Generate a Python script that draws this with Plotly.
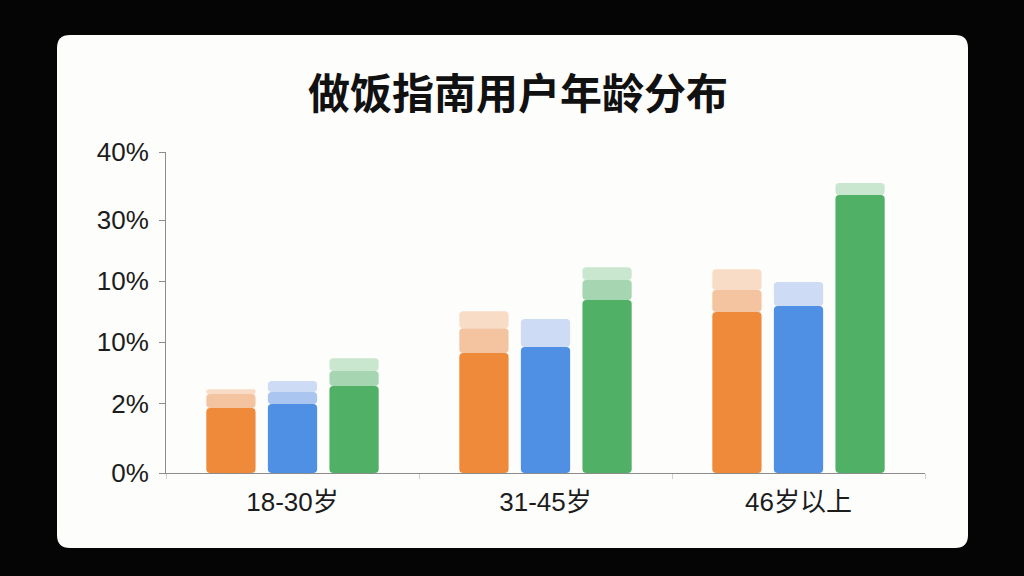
"""做饭指南用户年龄分布 – grouped bars with lighter stacked caps."""

import plotly.graph_objects as go

AGE_GROUPS = ["18-30岁", "31-45岁", "46岁以上"]

# axis is drawn on an even scale; labels are what the chart printed
Y_TICK_VALUES = [0, 8.6, 16.3, 23.9, 31.5, 40]
Y_TICK_LABELS = ["0%", "2%", "10%", "10%", "30%", "40%"]

ORANGE_MAIN = [8.1, 14.95, 20.05]
ORANGE_MID = [1.75, 3.1, 2.75]
ORANGE_PALE = [0.6, 2.1, 2.6]

BLUE_MAIN = [8.6, 15.7, 20.8]
BLUE_MID = [1.5, 0.0, 0.0]
BLUE_PALE = [1.35, 3.5, 3.0]

GREEN_MAIN = [10.85, 21.55, 34.65]
GREEN_MID = [1.85, 2.5, 0.0]
GREEN_PALE = [1.6, 1.6, 1.5]

SERIES = [
    ("orange", ORANGE_MAIN, ORANGE_MID, ORANGE_PALE, ("#ee8a3a", "#f4c4a0", "#f8dcc6")),
    ("blue", BLUE_MAIN, BLUE_MID, BLUE_PALE, ("#5090e4", "#a9c5f0", "#cddcf4")),
    ("green", GREEN_MAIN, GREEN_MID, GREEN_PALE, ("#50b065", "#a6d6b1", "#c9e6cf")),
]

FONT = "Liberation Sans, Arial, Noto Sans CJK SC, sans-serif"

fig = go.Figure()

for name, main, mid, pale, colors in SERIES:
    mid_base = main
    pale_base = [m + d for m, d in zip(main, mid)]
    for values, base, color in (
        (main, [0, 0, 0], colors[0]),
        (mid, mid_base, colors[1]),
        (pale, pale_base, colors[2]),
    ):
        fig.add_trace(
            go.Bar(
                x=AGE_GROUPS,
                y=values,
                base=base,
                offsetgroup=name,
                marker=dict(color=color, line=dict(width=0), cornerradius=4),
                showlegend=False,
                hoverinfo="skip",
            )
        )

# white rounded card behind the plot (paper coords from margins below)
L, R, T, B = 166, 99, 152, 103
W, H = 1024, 576
pw, ph = W - L - R, H - T - B


def px(x):
    return (x - L) / pw


def py(y):
    return (H - B - y) / ph


x0, x1, y0, y1 = px(57), px(968), py(548), py(35)
rx, ry = 13 / pw, 13 / ph
card = (
    f"M {x0 + rx},{y1} L {x1 - rx},{y1} Q {x1},{y1} {x1},{y1 - ry} "
    f"L {x1},{y0 + ry} Q {x1},{y0} {x1 - rx},{y0} "
    f"L {x0 + rx},{y0} Q {x0},{y0} {x0},{y0 + ry} "
    f"L {x0},{y1 - ry} Q {x0},{y1} {x0 + rx},{y1} Z"
)

fig.update_layout(
    width=W,
    height=H,
    margin=dict(l=L, r=R, t=T, b=B),
    paper_bgcolor="#050505",
    plot_bgcolor="rgba(0,0,0,0)",
    barmode="group",
    bargap=0.27,
    bargroupgap=0.2,
    font=dict(family=FONT, color="#1c1c1c"),
    title=dict(
        text="<b>做饭指南用户年龄分布</b>",
        x=518 / W,
        xref="container",
        y=1 - 94 / H,
        yanchor="middle",
        xanchor="center",
        font=dict(family="Noto Sans CJK SC, sans-serif", size=42, color="#111111"),
    ),
    shapes=[
        dict(
            type="path",
            path=card,
            xref="paper",
            yref="paper",
            fillcolor="#fdfdfc",
            line=dict(width=0),
            layer="below",
        )
    ],
    xaxis=dict(
        showline=True,
        linecolor="#8c8c8c",
        linewidth=1,
        ticks="outside",
        tickson="boundaries",
        ticklen=5,
        tickcolor="#d0d0d0",
        showgrid=False,
        tickfont=dict(size=26, family=FONT, color="#1c1c1c"),
        ticklabelstandoff=6,
    ),
    yaxis=dict(
        range=[0, 40],
        tickvals=Y_TICK_VALUES,
        ticktext=Y_TICK_LABELS,
        showline=True,
        linecolor="#8c8c8c",
        linewidth=1,
        ticks="outside",
        ticklen=6,
        tickcolor="#8c8c8c",
        showgrid=False,
        zeroline=False,
        tickfont=dict(size=26, family=FONT, color="#1c1c1c"),
        ticklabelstandoff=5,
    ),
)

# the page's default 8px body margin would push the chart off the window
fig.write_html(
    "out.html",
    config={"displayModeBar": False},
    post_script="document.body.style.margin = '0';",
)
